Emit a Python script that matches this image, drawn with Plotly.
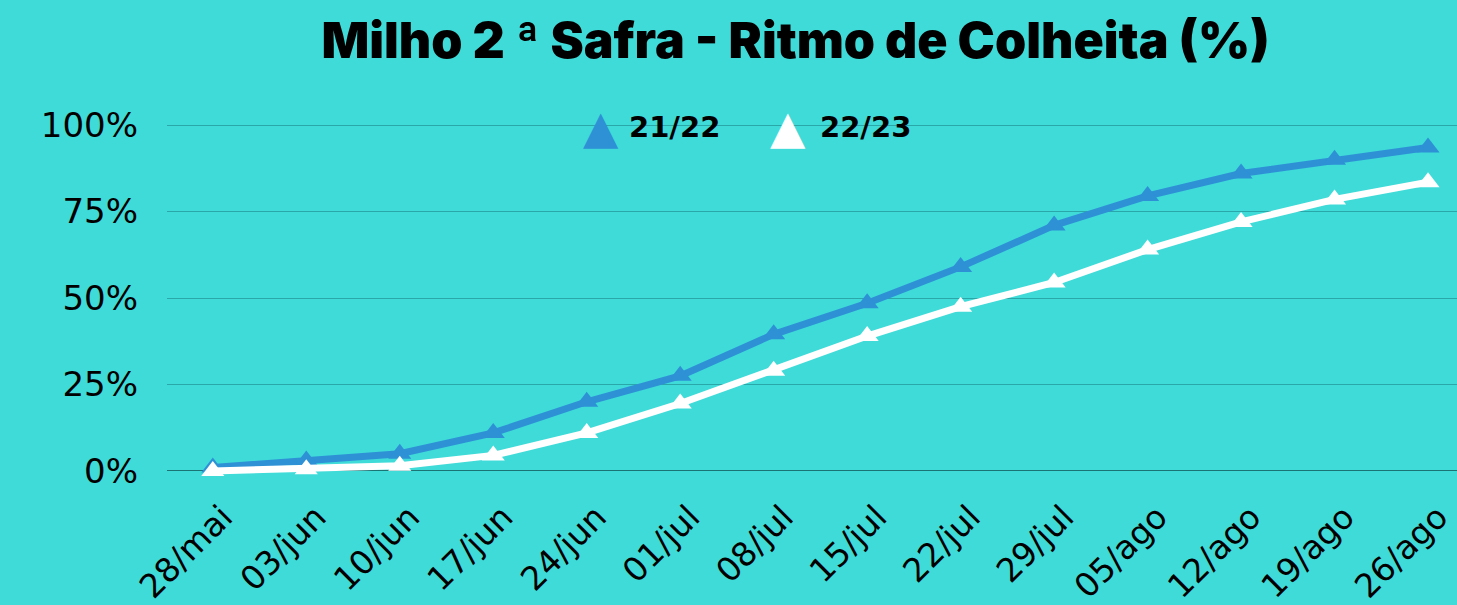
import plotly.graph_objects as go

categories = ["28/mai", "03/jun", "10/jun", "17/jun", "24/jun", "01/jul", "08/jul",
              "15/jul", "22/jul", "29/jul", "05/ago", "12/ago", "19/ago", "26/ago"]
safra_2122 = [1, 3, 5, 11, 20, 27.5, 39.5, 48.5, 59, 71, 79.5, 86, 90, 93.5]
safra_2223 = [0, 0.5, 1.5, 4.5, 11, 19.5, 29, 39, 47.5, 54.5, 64, 72, 78.5, 83.5]
series_names = ["21/22", "22/23"]
y_ticks = [0, 25, 50, 75, 100]
y_tick_labels = ["0%", "25%", "50%", "75%", "100%"]

BG = "#3FDBD8"
BLUE = "#2E91D6"
WHITE = "#FFFFFF"

fig = go.Figure()
for name, vals, col in [(series_names[0], safra_2122, BLUE), (series_names[1], safra_2223, WHITE)]:
    fig.add_trace(go.Scatter(
        x=categories, y=vals, mode="lines+markers", name=name,
        line=dict(color=col, width=7),
        marker=dict(symbol="triangle-up", size=20, color=col),
        showlegend=False,
    ))

# legend drawn as annotations (larger triangle glyphs than the native legend allows)
legend_items = [(series_names[0], BLUE, 0.3364, 0.3566), (series_names[1], WHITE, 0.4814, 0.5047)]
for name, col, xm, xt in legend_items:
    fig.add_annotation(text="▲", xref="paper", yref="paper", x=xm, y=0.943,
                       xanchor="center", yanchor="middle", showarrow=False,
                       font=dict(family="DejaVu Sans", size=46, color=col))
    fig.add_annotation(text=name, xref="paper", yref="paper", x=xt, y=0.943,
                       xanchor="left", yanchor="middle", showarrow=False,
                       font=dict(family="DejaVu Sans", size=29, color="#000000", weight="bold"))

fig.update_layout(
    width=1457, height=605,
    paper_bgcolor=BG, plot_bgcolor=BG,
    margin=dict(l=167, r=0, t=105, b=115),
    showlegend=False,
    title=dict(
        text="Milho 2 ª Safra - Ritmo de Colheita (%)",
        x=0.546, xanchor="center", y=0.933, yanchor="middle",
        font=dict(family="Inter", size=50, color="#000000", weight=900),
    ),
    xaxis=dict(
        type="category", range=[-0.49, 13.31], tickangle=-45,
        tickfont=dict(family="DejaVu Sans", size=33, color="#000000"),
        ticklabelshift=10,
        showgrid=False, showline=False, ticks="", automargin=False,
    ),
    yaxis=dict(
        range=[-5.5, 105.8], tickvals=y_ticks, ticktext=y_tick_labels,
        tickfont=dict(family="DejaVu Sans", size=34, color="#000000"),
        showgrid=True, gridcolor="#2AA7A8", gridwidth=1,
        zeroline=True, zerolinecolor="#1C7374", zerolinewidth=1,
        showline=False, ticks="", ticklabelstandoff=28, automargin=False,
    ),
)

fig.write_html("out.html", config={"displayModeBar": False},
               post_script="document.body.style.margin='0';document.body.style.background='" + BG + "';")
